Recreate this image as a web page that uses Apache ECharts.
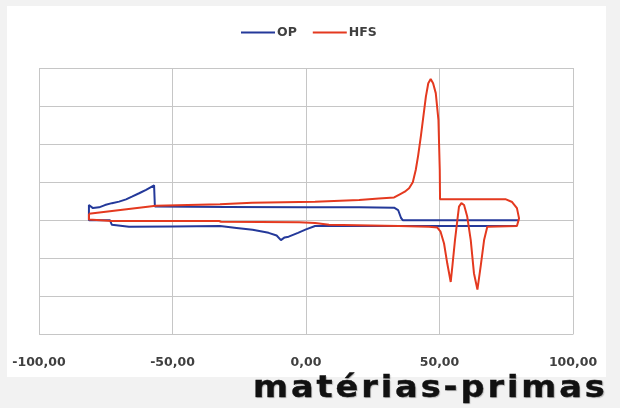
<!DOCTYPE html>
<html>
<head>
<meta charset="utf-8">
<script src="https://cdn.jsdelivr.net/npm/echarts@6/dist/echarts.min.js"></script>
<style>
  html, body { margin: 0; padding: 0; background: #f2f2f2; }
  #wrap { position: relative; width: 620px; height: 408px; overflow: hidden; }
  #chart { position: absolute; left: 0; top: 0; width: 620px; height: 408px; }
  #brand { position: absolute; left: 253px; top: 372px; font-family: "DejaVu Sans", sans-serif;
           font-weight: bold; font-size: 30px; line-height: 30px; letter-spacing: 2.6px; color: #111; white-space: nowrap;
           transform: scaleX(1.12); transform-origin: 0 0;
           -webkit-text-stroke: 0.4px #111;
           text-shadow: 1px 1px 1px rgba(0,0,0,0.25); }
</style>
</head>
<body>
<div id="wrap">
  <div id="chart"></div>
  <div id="brand">matérias-primas</div>
</div>
<script>
// ---- data ----
const seriesNames = ['OP', 'HFS'];
const xTicks = [-100, -50, 0, 50, 100];

// OP (blue): cooling branch right->left, then heating branch left->right
const opX = [79.0, 40, 3.4, 0, -3.0, -6.5, -8.0, -9.4, -11.0, -14.0, -20.0, -26.0, -32.2, -50, -66.3, -72.7, -73.4, -81.3,
             -81.3, -79.8, -77.5, -75.3, -72.7, -70.0, -67.4, -65.2, -62.5, -59.9, -56.9, -56.6,
             -30, 0, 20, 33, 34.5, 35.6, 36.3, 60, 79.8];
const opY = [-0.15, -0.15, -0.15, -0.24, -0.33, -0.43, -0.45, -0.52, -0.40, -0.33, -0.25, -0.20, -0.15, -0.16, -0.17, -0.12, 0, 0,
             0.40, 0.32, 0.34, 0.40, 0.45, 0.49, 0.55, 0.62, 0.71, 0.80, 0.92, 0.36,
             0.35, 0.34, 0.34, 0.33, 0.27, 0.06, 0, 0, 0];

// HFS (red): heating branch left->right, then cooling branch right->left
const hfsX = [-81.3, -56.2, -32.2, -20.2, 3.4, 19.9, 27.3, 33.0, 34.8, 37.0, 38.6, 40.0, 41.1, 42.0, 43.0, 44.9, 45.8, 46.7, 47.6, 48.6, 49.6, 50.1, 50.2,
              74.9, 77.2, 79.0, 79.8, 79.0,
              67.9, 66.7, 65.4, 64.2, 62.9, 61.7, 60.4, 59.2, 58.2, 57.3, 56.7, 55.8, 54.8, 54.2, 52.9, 51.7, 50.4, 49.2, 46.1,
              34.8, 8.6, 3.4, -2.6, -31.8, -32.6, -72.7, -73.4, -81.3, -81.3];
const hfsY = [0.17, 0.38, 0.42, 0.46, 0.49, 0.53, 0.57, 0.60, 0.67, 0.75, 0.84, 1.00, 1.32, 1.70, 2.20, 3.25, 3.60, 3.71, 3.60, 3.34, 2.64, 1.32, 0.55,
              0.55, 0.48, 0.32, 0.05, -0.15,
              -0.17, -0.52, -1.22, -1.82, -1.39, -0.52, 0.09, 0.40, 0.45, 0.36, 0.01, -0.52, -1.22, -1.62, -1.13, -0.61, -0.30, -0.19, -0.17,
              -0.15, -0.12, -0.07, -0.05, -0.04, -0.02, -0.02, 0.02, 0.02, 0.17];

const colors = ['#24399a', '#e4391f'];

function pairs(xs, ys) { return xs.map((x, i) => [x, ys[i]]); }

const chart = echarts.init(document.getElementById('chart'), null, { renderer: 'canvas' });
const gridColor = '#c6c6c6';
chart.setOption({
  backgroundColor: 'transparent',
  animation: false,
  graphic: [{
    type: 'rect', z: -10, silent: true,
    shape: { x: 7, y: 6, width: 599, height: 371 },
    style: { fill: '#ffffff' }
  }],
  legend: {
    data: seriesNames,
    left: 236, top: 21,
    icon: 'rect', itemWidth: 34, itemHeight: 2, itemGap: 16,
    textStyle: { fontFamily: 'DejaVu Sans', fontWeight: 'bold', fontSize: 12.5, color: '#404040', padding: [0, 0, 0, -3] }
  },
  grid: { left: 39, right: 47, top: 68, bottom: 73.5 },
  xAxis: {
    type: 'value', min: xTicks[0], max: xTicks[xTicks.length - 1], interval: 50,
    axisLine: { show: false, onZero: false },
    axisTick: { show: false },
    splitLine: { show: true, lineStyle: { color: gridColor, width: 1 } },
    axisLabel: {
      margin: 22, fontFamily: 'DejaVu Sans', fontWeight: 'bold', fontSize: 12.5, color: '#404040',
      formatter: v => v.toFixed(2).replace('.', ',')
    }
  },
  yAxis: {
    type: 'value', min: -3, max: 4, interval: 1,
    axisLine: { show: false }, axisTick: { show: false }, axisLabel: { show: false },
    splitLine: { show: true, lineStyle: { color: gridColor, width: 1 } }
  },
  series: [
    { name: seriesNames[0], type: 'line', data: pairs(opX, opY), symbol: 'none', smooth: false,
      lineStyle: { color: colors[0], width: 2 }, itemStyle: { color: colors[0] } },
    { name: seriesNames[1], type: 'line', data: pairs(hfsX, hfsY), symbol: 'none', smooth: false,
      lineStyle: { color: colors[1], width: 2 }, itemStyle: { color: colors[1] } }
  ]
});
</script>
</body>
</html>
